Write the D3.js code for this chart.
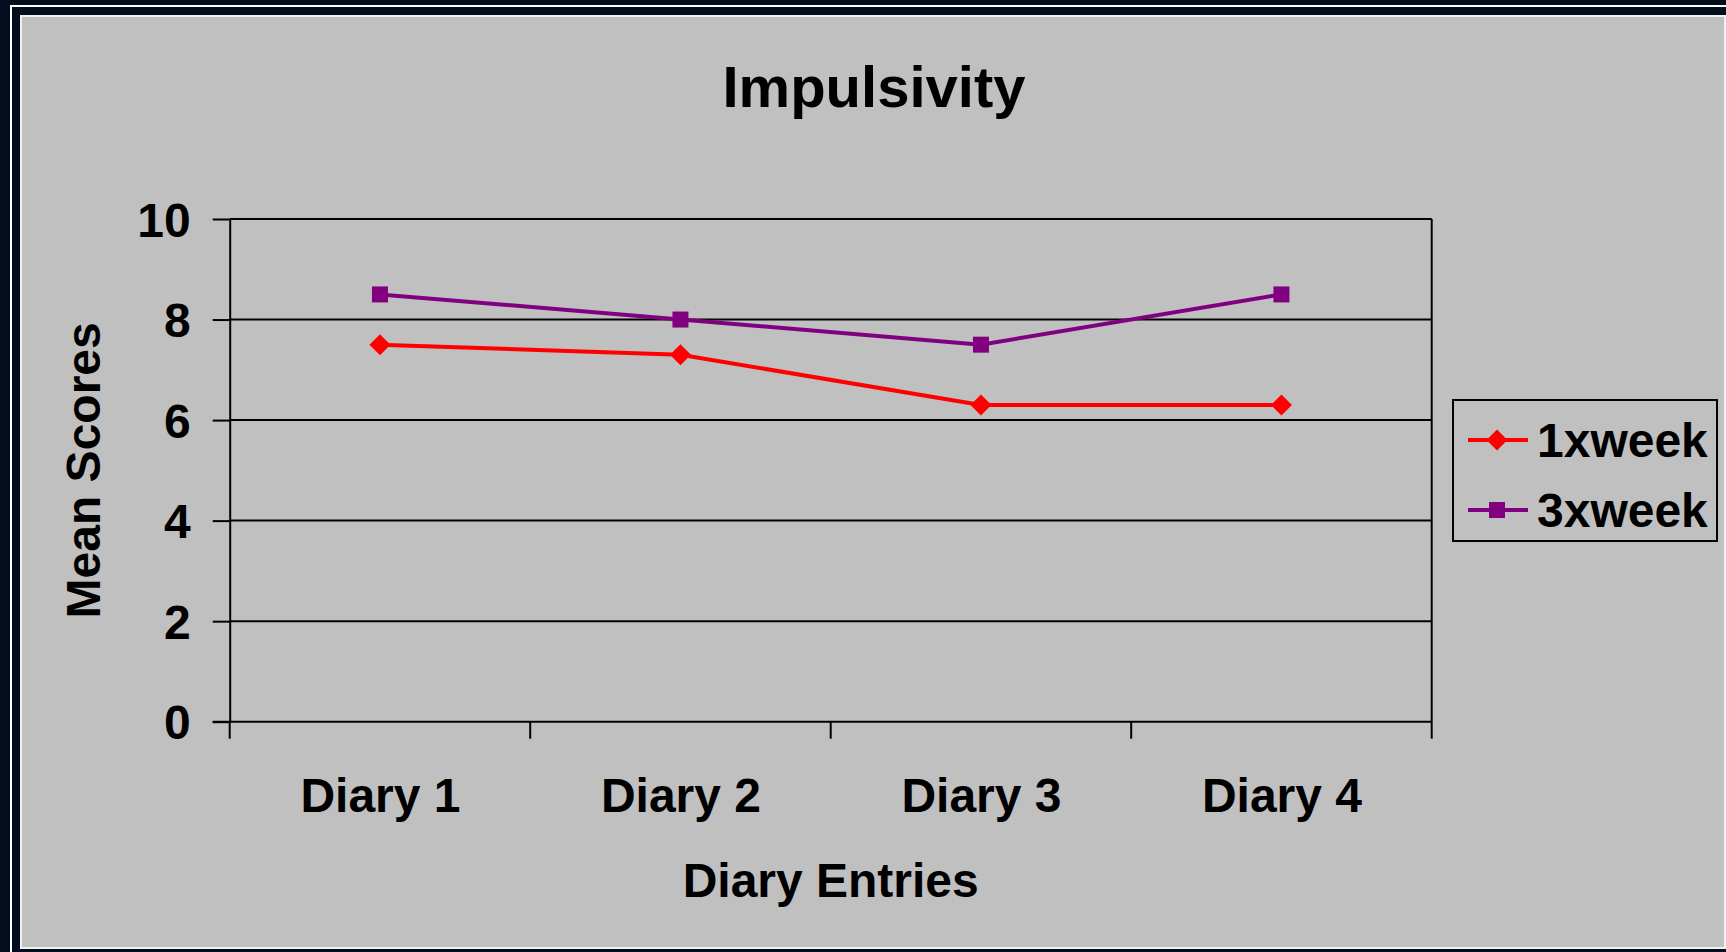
<!DOCTYPE html>
<html>
<head>
<meta charset="utf-8">
<script src="https://cdn.jsdelivr.net/npm/d3@7"></script>
<style>
  html, body { margin: 0; padding: 0; background: #020e1e; overflow: hidden; }
  svg { display: block; }
  text { font-family: "Liberation Sans", Arial, sans-serif; font-weight: bold; fill: #000; }
</style>
</head>
<body>
<svg id="chart" width="1726" height="952"></svg>
<script>
// Chart data
const categories = ["Diary 1", "Diary 2", "Diary 3", "Diary 4"];
const seriesNames = ["1xweek", "3xweek"];
const onceWeekly = [7.5, 7.3, 6.3, 6.3];
const thriceWeekly = [8.5, 8.0, 7.5, 8.5];
const yTickValues = [0, 2, 4, 6, 8, 10];

const series = [
  { name: seriesNames[0], values: onceWeekly, color: "#ff0000", marker: "diamond" },
  { name: seriesNames[1], values: thriceWeekly, color: "#800080", marker: "square" }
];

const svg = d3.select("#chart");
const W = 1726, H = 952;

// Slide background and framing lines
svg.append("rect").attr("x", 0).attr("y", 0).attr("width", W).attr("height", H).attr("fill", "#020e1e");
svg.append("rect").attr("x", 11).attr("y", 6).attr("width", 1800).attr("height", 1000)
  .attr("fill", "none").attr("stroke", "#ffffff").attr("stroke-width", 2);
svg.append("rect").attr("x", 21).attr("y", 16).attr("width", 1704).attr("height", 932)
  .attr("fill", "#c0c0c0").attr("stroke", "#f2f2f2").attr("stroke-width", 2);

// Plot area
const plot = { left: 229.7, right: 1431.7, top: 219, bottom: 721.7 };

const xBand = d3.scaleBand().domain(categories).range([plot.left, plot.right]).padding(0);
const xPoint = d3.scalePoint().domain(categories).range([plot.left, plot.right]).padding(0.5);
const y = d3.scaleLinear().domain([0, 10]).range([plot.bottom, plot.top]);

// Horizontal gridlines
svg.append("g").selectAll("line").data(yTickValues.filter(v => v > 0)).join("line")
  .attr("x1", plot.left).attr("x2", plot.right)
  .attr("y1", d => y(d)).attr("y2", d => y(d))
  .attr("stroke", "#000").attr("stroke-width", 2);

// Right edge of the plot area
svg.append("line")
  .attr("x1", plot.right).attr("x2", plot.right)
  .attr("y1", plot.top).attr("y2", plot.bottom)
  .attr("stroke", "#000").attr("stroke-width", 2);

// Y axis
const yAxis = d3.axisLeft(y).tickValues(yTickValues).tickSize(17).tickSizeOuter(0).tickPadding(22);
const gy = svg.append("g").attr("transform", `translate(${plot.left},0)`).call(yAxis);
gy.select(".domain").attr("stroke", "#000").attr("stroke-width", 2);
gy.selectAll(".tick line").attr("stroke", "#000").attr("stroke-width", 2);
gy.selectAll(".tick text").attr("font-size", 48).attr("dy", "0.36em")
  .style("font-family", "'Liberation Sans', Arial, sans-serif").style("font-weight", "bold");

// X axis: tick marks at category boundaries, labels at category centres
const boundaries = categories.map(c => xBand(c)).concat([xBand(categories[categories.length - 1]) + xBand.bandwidth()]);
svg.append("line")
  .attr("x1", plot.left - 17).attr("x2", plot.right)
  .attr("y1", plot.bottom).attr("y2", plot.bottom)
  .attr("stroke", "#000").attr("stroke-width", 2);
svg.append("g").selectAll("line").data(boundaries).join("line")
  .attr("x1", d => d).attr("x2", d => d)
  .attr("y1", plot.bottom).attr("y2", plot.bottom + 17)
  .attr("stroke", "#000").attr("stroke-width", 2);

const xAxis = d3.axisBottom(xPoint).tickSize(0).tickPadding(0);
const gx = svg.append("g").attr("transform", `translate(0,${plot.bottom})`).call(xAxis);
gx.select(".domain").remove();
gx.selectAll(".tick text").attr("font-size", 48).attr("y", 0).attr("dy", 0)
  .attr("transform", "translate(0,90)")
  .style("font-family", "'Liberation Sans', Arial, sans-serif").style("font-weight", "bold");

// Titles
svg.append("text").attr("x", 874).attr("y", 107).attr("text-anchor", "middle")
  .attr("font-size", 58).text("Impulsivity");
svg.append("text").attr("x", (plot.left + plot.right) / 2).attr("y", 897).attr("text-anchor", "middle")
  .attr("font-size", 48).text("Diary Entries");
svg.append("text").attr("transform", `translate(100,${(plot.top + plot.bottom) / 2}) rotate(-90)`)
  .attr("text-anchor", "middle").attr("font-size", 48).text("Mean Scores");

// Marker shapes
function markerPath(kind) {
  if (kind === "diamond") {
    const r = 10.5;
    return `M0,${-r}L${r},0L0,${r}L${-r},0Z`;
  }
  const s = 8;
  return `M${-s},${-s}H${s}V${s}H${-s}Z`;
}

// Series lines and markers
const line = d3.line().x((d, i) => xPoint(categories[i])).y(d => y(d));
series.forEach(s => {
  svg.append("path").datum(s.values).attr("d", line)
    .attr("fill", "none").attr("stroke", s.color).attr("stroke-width", 4);
  svg.append("g").selectAll("path").data(s.values).join("path")
    .attr("transform", (d, i) => `translate(${xPoint(categories[i])},${y(d)})`)
    .attr("d", markerPath(s.marker)).attr("fill", s.color);
});

// Legend
const legend = svg.append("g");
legend.append("rect").attr("x", 1453).attr("y", 400).attr("width", 264).attr("height", 141)
  .attr("fill", "none").attr("stroke", "#000").attr("stroke-width", 2);
series.forEach((s, i) => {
  const ly = 440 + i * 70;
  legend.append("line").attr("x1", 1468).attr("x2", 1528).attr("y1", ly).attr("y2", ly)
    .attr("stroke", s.color).attr("stroke-width", 4);
  legend.append("path").attr("transform", `translate(1497,${ly})`)
    .attr("d", markerPath(s.marker)).attr("fill", s.color);
  legend.append("text").attr("x", 1537).attr("y", ly + 17).attr("font-size", 48).text(s.name);
});
</script>
</body>
</html>
